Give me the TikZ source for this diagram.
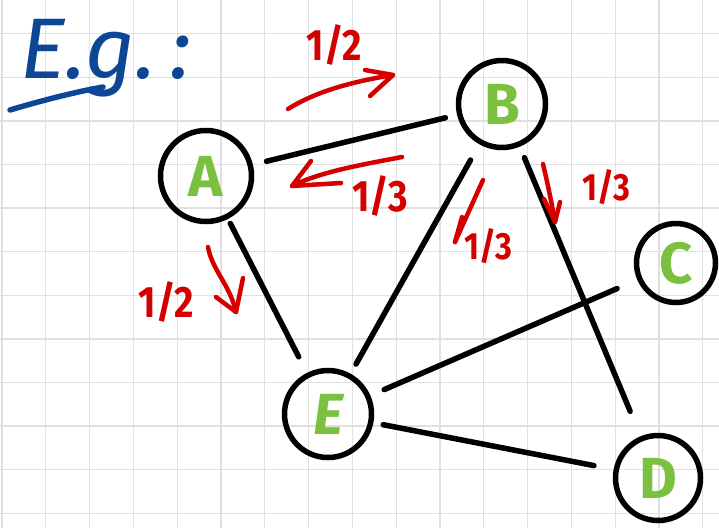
\documentclass[tikz,border=0pt]{standalone}
\usepackage{fontspec}
\setmainfont{Fira Sans}
\definecolor{gridgray}{RGB}{224,224,224}
\definecolor{leafgreen}{RGB}{124,192,64}
\definecolor{inkred}{RGB}{212,0,0}
\definecolor{inkblue}{RGB}{12,70,148}
\tikzset{
  gridline/.style={draw=gridgray, line width=1.3pt},
  vertex/.style={circle, draw=black, line width=5.5pt, text=leafgreen,
                 font=\fontsize{58}{58}\selectfont\bfseries, inner sep=0pt},
  edge/.style={draw=black, line width=5.5pt, line cap=round},
  flow/.style={draw=inkred, line width=4.5pt, line cap=round, line join=round},
  weight/.style={text=inkred, font=\fontsize{44}{44}\selectfont\bfseries,
                 inner sep=0pt, xscale=0.85}
}
\begin{document}
\begin{tikzpicture}[x=1pt,y=-1pt]
\useasboundingbox (0,0) rectangle (719,528);
\fill[white] (0,0) rectangle (719,528);
% squared paper
\foreach \i in {0,...,16} \draw[gridline] ({2+43.8*\i},0) -- ({2+43.8*\i},528);
\foreach \j in {0,...,11} \draw[gridline] (0,{33.7+43.6*\j}) -- (719,{33.7+43.6*\j});

% heading
\node[anchor=base west, text=inkblue, inner sep=0pt,
      font=\fontsize{86}{86}\selectfont\itshape] (eg) at (20,78) {E.g.\,:};
\coordinate (ulA) at (10,110);
\coordinate (ulB) at (103,87);
\draw[draw=inkblue, line width=5.5pt, line cap=round] (ulA) .. controls (40,101) and (75,92) .. (ulB);

% vertices
\node[vertex, minimum size=91pt] (A) at (206,176) {A};
\node[vertex, minimum size=87pt] (B) at (502,104) {B};
\node[vertex, minimum size=79pt] (C) at (676,263) {C};
\node[vertex, minimum size=85pt] (D) at (658,478) {D};
\node[vertex, minimum size=87pt, font=\fontsize{58}{58}\selectfont\bfseries\itshape] (E) at (328,414) {E};

% undirected edges
\draw[edge, shorten <=14pt, shorten >=12pt] (A) -- (B);
\draw[edge, shorten <=5pt,  shorten >=18pt] (A) -- (E);
\draw[edge, shorten <=18pt, shorten >=11pt] (B) -- (E);
\draw[edge, shorten <=12pt, shorten >=27pt] (B) -- (D);
\draw[edge, shorten <=15pt, shorten >=22pt] (E) -- (C);
\draw[edge, shorten <=10pt, shorten >=20pt] (E) -- (D);

% transition weights
% A -> B
\coordinate (ab0) at (288,109);
\coordinate (ab1) at (393,75);
\draw[flow] (ab0) .. controls (315,92) and (350,82) .. (ab1);
\draw[flow] (365,70) -- (ab1) -- (370,96);
\node[weight] (wab) at (334,45) {1/2};
% B -> A
\coordinate (ba0) at (402,157);
\coordinate (ba1) at (292,186);
\draw[flow] (ba0) .. controls (360,165) and (320,172) .. (ba1);
\draw[flow] (311,161) -- (ba1) -- (341,183);
\node[weight] (wba) at (380,196) {1/3};
% A -> E
\coordinate (ae0) at (208,247);
\coordinate (ae1) at (236,312);
\draw[flow] (ae0) .. controls (212,270) and (230,285) .. (ae1);
\draw[flow] (216,297) -- (ae1) -- (243,278);
\node[weight] (wae) at (166,302) {1/2};
% B -> E
\coordinate (be0) at (483,180);
\coordinate (be1) at (455,242);
\draw[flow] (be0) -- (be1);
\draw[flow] (462,217) -- (be1);
\node[weight, font=\fontsize{38}{38}\selectfont\bfseries] (wbe) at (488,246) {1/3};
% B -> D
\coordinate (bd0) at (543,164);
\coordinate (bd1) at (555,222);
\draw[flow] (bd0) .. controls (548,185) and (552,205) .. (bd1);
\draw[flow] (544,199) -- (bd1) -- (560,202);
\node[weight, font=\fontsize{38}{38}\selectfont\bfseries] (wbd) at (606,187) {1/3};
\end{tikzpicture}
\end{document}
